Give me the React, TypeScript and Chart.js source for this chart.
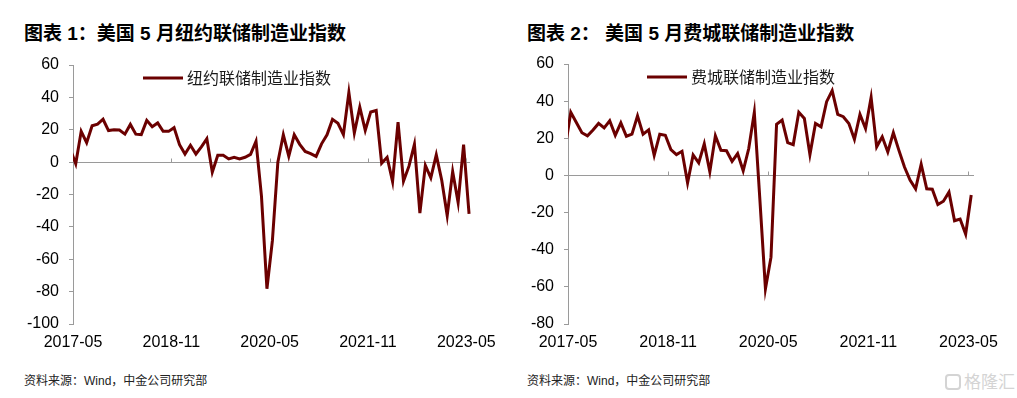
import React, { useEffect, useRef } from "react";
import { Chart, registerables } from "chart.js";

Chart.register(...registerables);

// ---------- data ----------
const firstMonth = "2017-04";
const xTickLabels = ["2017-05", "2018-11", "2020-05", "2021-11", "2023-05"];

// 纽约联储制造业指数, 2017-04 .. 2023-05
const nyIndex = [
  8, -1, 19, 12, 22.5, 23.5, 26.5, 19.5, 20,
  19.8, 17.3, 23.3, 17.3, 17, 25.8, 21.9, 24.2, 19, 19, 21.3, 10.8,
  5, 10.4, 5, 9.4, 14.4, -6.2, 4.2, 4.2, 2, 3, 2, 3,
  4.8, 12.9, -21, -78.2, -48.5, 0, 16.9, 3.7, 16.9, 11, 6.6, 5.2,
  3.5, 11.3, 16.9, 26.4, 24, 17, 43, 18, 34, 19.6, 31, 31.9,
  -0.7, 3, -12, 24.7, -11.8, -2.5, 11, -31.5, -2, -9.7, 4.5, -11.2,
  -33, -5.8, -25, 10.8, -32,
];

// 费城联储制造业指数, 2017-04 .. 2023-05
const phillyIndex = [
  15, 34, 28.5, 23, 21.3, 24.5, 28, 25.6, 29.4,
  21.6, 28.3, 21.1, 22.2, 32.1, 22.2, 24.5, 10.8, 22.2, 21.6, 13.9, 11.2,
  13, -4, 11, 6.8, 17, 2, 21.3, 13.5, 13.3, 7.6, 11.8, 2.5,
  14.5, 34, -13, -61, -44, 27.5, 29.8, 17.7, 16.6, 34, 30.7, 11.2,
  28, 26.2, 39.7, 45.7, 32.9, 31.6, 28, 19.5, 32.9, 25.3, 42, 15.4,
  20.8, 12.6, 23, 13.5, 4.5, -2.5, -7.2, 6, -7.2, -7.4, -15.7, -13.9,
  -9, -24.4, -23.5, -31.6, -10.5,
];

const nyLabel = "纽约联储制造业指数";
const phillyLabel = "费城联储制造业指数";
const title1 = "图表 1：美国 5 月纽约联储制造业指数";
const title2 = "图表 2： 美国 5 月费城联储制造业指数";
const sourceText = "资料来源：Wind，中金公司研究部";

// ---------- helpers ----------
function monthIndex(label: string): number {
  const [y, m] = label.split("-").map(Number);
  return (y - 2017) * 12 + (m - 5);
}
function monthLabels(start: string, count: number): string[] {
  const out: string[] = [];
  let [y, m] = start.split("-").map(Number);
  for (let i = 0; i < count; i++) {
    out.push(`${y}-${String(m).padStart(2, "0")}`);
    m++;
    if (m > 12) { m = 1; y++; }
  }
  return out;
}

const LINE_COLOR = "#6b0000";
const AXIS_COLOR = "#9a9a9a";
const TICK_FONT = { family: "'Liberation Sans', Arial, sans-serif", size: 16 };
const CJK = "'Liberation Sans', 'Noto Sans CJK SC', sans-serif";

type PanelProps = {
  left: number;
  width: number;
  height: number;
  yAxisWidth: number;
  top: number;
  bottom: number;
  rightPad: number;
  yMin: number;
  yMax: number;
  xMax: number;
  values: number[];
  label: string;
  legendX: number;
  legendY: number;
};

function Panel(p: PanelProps) {
  const ref = useRef<HTMLCanvasElement>(null);
  useEffect(() => {
    if (!ref.current) return;
    const months = monthLabels(firstMonth, p.values.length);
    const data = months.map((mo, i) => ({ x: monthIndex(mo) + 0.5, y: p.values[i] }));
    const tickVals = xTickLabels.map(monthIndex);

    const extras = {
      id: "extras",
      afterDatasetsDraw(chart: any) {
        const ctx = chart.ctx;
        const xs = chart.scales.x;
        const ys = chart.scales.y;
        const y0 = Math.round(ys.getPixelForValue(0)) + 0.5;
        ctx.save();
        ctx.strokeStyle = AXIS_COLOR;
        ctx.lineWidth = 1;
        tickVals.forEach((v) => {
          if (v === 0) return;
          const px = Math.round(xs.getPixelForValue(v)) + 0.5;
          ctx.beginPath();
          ctx.moveTo(px, y0);
          ctx.lineTo(px, y0 - 4);
          ctx.stroke();
        });
        // legend
        const ds = chart.data.datasets[0];
        ctx.strokeStyle = ds.borderColor;
        ctx.lineWidth = 3;
        ctx.beginPath();
        ctx.moveTo(p.legendX, p.legendY);
        ctx.lineTo(p.legendX + 40, p.legendY);
        ctx.stroke();
        ctx.fillStyle = "#1a1a1a";
        ctx.font = "16px 'Noto Sans CJK SC', sans-serif";
        ctx.textBaseline = "middle";
        ctx.fillText(ds.label, p.legendX + 44, p.legendY);
        ctx.restore();
      },
    };

    const chart = new Chart(ref.current, {
      type: "line",
      data: {
        datasets: [
          {
            label: p.label,
            data,
            borderColor: LINE_COLOR,
            borderWidth: 3,
            pointRadius: 0,
            tension: 0,
            clip: { left: 0, right: 6, top: 6, bottom: 6 } as any,
          },
        ],
      },
      options: {
        animation: false,
        responsive: false,
        events: [],
        layout: {
          padding: {
            left: 0,
            top: p.top,
            right: p.rightPad,
            bottom: p.height - p.bottom - 30,
          },
        },
        plugins: { legend: { display: false }, tooltip: { enabled: false } },
        scales: {
          x: {
            type: "linear",
            min: 0,
            max: p.xMax,
            grid: { display: false, drawTicks: false },
            border: { display: false },
            afterBuildTicks: (s: any) => {
              s.ticks = tickVals.map((v) => ({ value: v }));
            },
            afterFit: (s: any) => {
              s.height = 30;
            },
            ticks: {
              autoSkip: false,
              maxRotation: 0,
              padding: 9,
              color: "#000",
              font: TICK_FONT,
              callback: (v: any) => {
                const i = tickVals.indexOf(Number(v));
                return i >= 0 ? xTickLabels[i] : "";
              },
            },
          },
          y: {
            min: p.yMin,
            max: p.yMax,
            afterFit: (s: any) => {
              s.width = p.yAxisWidth;
            },
            border: { display: true, color: AXIS_COLOR, width: 1 },
            grid: {
              drawOnChartArea: true,
              tickLength: 4,
              tickColor: AXIS_COLOR,
              color: (c: any) => (c.tick && c.tick.value === 0 ? AXIS_COLOR : "rgba(0,0,0,0)"),
            },
            ticks: {
              stepSize: 20,
              padding: 10,
              color: "#000",
              font: TICK_FONT,
            },
          },
        },
      },
      plugins: [extras],
    });
    return () => chart.destroy();
  }, []);
  return (
    <canvas
      ref={ref}
      width={p.width}
      height={p.height}
      style={{ position: "absolute", left: p.left, top: 0, width: p.width, height: p.height }}
    />
  );
}

const titleStyle: React.CSSProperties = {
  position: "absolute",
  top: 22,
  fontFamily: CJK,
  fontWeight: "bold",
  fontSize: 19,
  lineHeight: "23px",
  color: "#000",
  whiteSpace: "pre",
};
const sourceStyle: React.CSSProperties = {
  position: "absolute",
  top: 373,
  fontFamily: CJK,
  fontSize: 12,
  lineHeight: "16px",
  color: "#222",
  whiteSpace: "pre",
};

export default function App() {
  return (
    <div
      style={{
        position: "absolute",
        left: 0,
        top: 0,
        width: 1017,
        height: 398,
        background: "#fff",
        overflow: "hidden",
      }}
    >
      <div style={{ ...titleStyle, left: 24 }}>{title1}</div>
      <div style={{ ...titleStyle, left: 527 }}>{title2}</div>
      <Panel
        left={0}
        width={505}
        height={360}
        yAxisWidth={73}
        top={65}
        bottom={324}
        rightPad={33}
        yMin={-100}
        yMax={60}
        xMax={72.7}
        values={nyIndex}
        label={nyLabel}
        legendX={143}
        legendY={78}
      />
      <Panel
        left={505}
        width={512}
        height={360}
        yAxisWidth={63}
        top={64}
        bottom={324}
        rightPad={43}
        yMin={-80}
        yMax={60}
        xMax={73}
        values={phillyIndex}
        label={phillyLabel}
        legendX={142}
        legendY={77}
      />
      <div style={{ ...sourceStyle, left: 24 }}>{sourceText}</div>
      <div style={{ ...sourceStyle, left: 527 }}>{sourceText}</div>
      <div
        style={{
          position: "absolute",
          left: 945,
          top: 370,
          fontFamily: "'Noto Sans CJK SC', sans-serif",
          fontSize: 17,
          lineHeight: "22px",
          color: "#d4d4d4",
          whiteSpace: "pre",
        }}
      >
        <span
          style={{
            display: "inline-block",
            width: 16,
            height: 16,
            border: "2px solid #d4d4d4",
            borderRadius: 4,
            marginRight: 3,
            verticalAlign: "-2px",
            boxSizing: "border-box",
          }}
        />
        格隆汇
      </div>
    </div>
  );
}
